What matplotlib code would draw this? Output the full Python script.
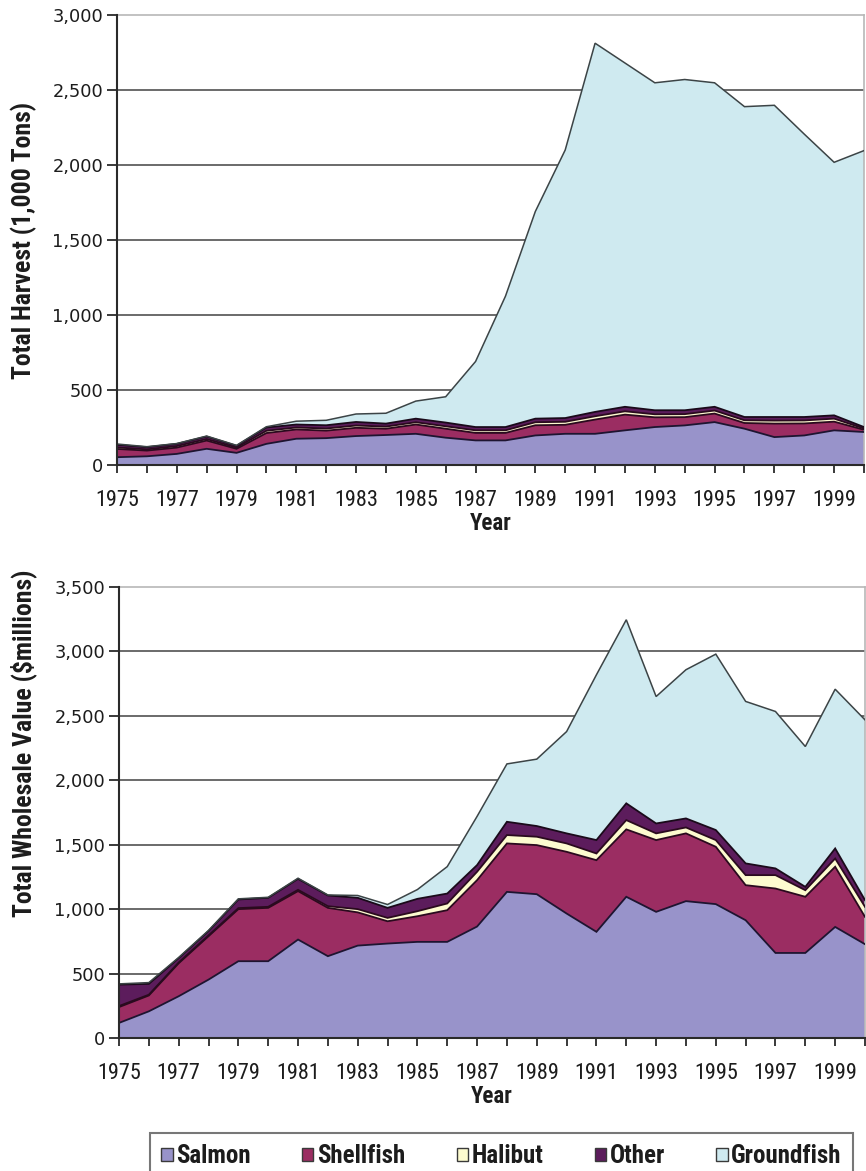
import matplotlib
matplotlib.use("Agg")
import numpy as np
import matplotlib.pyplot as plt
from matplotlib import font_manager
from matplotlib.patches import Patch
from matplotlib.ticker import FuncFormatter

# ---- data -------------------------------------------------------------
years = list(range(1975, 2001))
series_names = ["Salmon", "Shellfish", "Halibut", "Other", "Groundfish"]

# Total harvest, 1,000 tons
harvest_salmon = [52, 58, 74, 108, 81, 141, 175, 179, 193, 200, 208, 182, 164,
                  164, 197, 208, 208, 231, 253, 264, 286, 242, 186, 197, 231, 220]
harvest_shellfish = [55, 38, 42, 55, 27, 72, 62, 50, 55, 42, 62, 60, 50,
                     50, 68, 60, 95, 105, 65, 55, 57, 38, 90, 80, 58, 15]
harvest_halibut = [10, 8, 10, 10, 8, 15, 13, 14, 15, 14, 15, 16, 17,
                   17, 20, 20, 22, 22, 20, 20, 20, 18, 20, 20, 20, 8]
harvest_other = [18, 15, 15, 17, 12, 22, 20, 22, 24, 20, 24, 25, 22,
                 22, 24, 25, 29, 30, 27, 26, 25, 22, 24, 23, 22, 10]
harvest_groundfish = [5, 3, 2, 3, 3, 5, 22, 33, 53, 69, 117, 172, 437,
                      872, 1381, 1787, 2458, 2292, 2183, 2205, 2160, 2069, 2078, 1886, 1687, 1843]

# Total wholesale value, $ millions
value_salmon = [117, 207, 324, 453, 596, 596, 764, 635, 717, 733, 746, 746, 865,
                1134, 1116, 966, 824, 1096, 979, 1062, 1039, 914, 660, 660, 862, 728]
value_shellfish = [123, 123, 256, 337, 404, 414, 376, 375, 258, 173, 199, 246, 360,
                   376, 381, 479, 556, 523, 557, 526, 445, 272, 500, 436, 467, 212]
value_halibut = [8, 6, 6, 6, 8, 8, 10, 13, 25, 26, 39, 52, 65,
                 65, 65, 65, 52, 72, 52, 46, 52, 78, 104, 51, 64, 78]
value_other = [166, 84, 34, 34, 67, 70, 85, 83, 88, 78, 96, 77, 52,
               103, 83, 78, 104, 130, 77, 70, 78, 91, 52, 26, 78, 52]
value_groundfish = [6, 10, 5, 5, 5, 4, 5, 4, 18, 26, 72, 209, 378,
                    449, 519, 790, 1283, 1425, 985, 1154, 1365, 1257, 1218, 1089, 1236, 1399]

# ---- style ------------------------------------------------------------
fill_colors = ["#9893ca", "#9b2d62", "#fdfbcf", "#5c1c5c", "#cfeaf0"]
edge_colors = ["#1e1430", "#2a0a1e", "#2a0a1e", "#1a0a1a", "#3c4446"]

installed = {f.name for f in font_manager.fontManager.ttflist}


def pick(*names):
    for n in names:
        if n in installed:
            return n
    return "DejaVu Sans"


narrow = pick("Liberation Sans Narrow", "Roboto Condensed", "Open Sans Condensed",
              "Liberation Sans")
wide = "DejaVu Sans"
text_color = "#1c1c1c"

fig = plt.figure(figsize=(8.66, 11.71), dpi=100)
W, H = 866.0, 1171.0

ax_top = fig.add_axes([117 / W, 1 - 465 / H, 747 / W, 450 / H])
ax_bot = fig.add_axes([119 / W, 1 - 1038 / H, 746 / W, 451 / H])


def draw_stack(ax, layers, ymax, ystep, ylabel, ylabel_y):
    ax.stackplot(years, *layers, colors=fill_colors, linewidth=0, zorder=2)
    tops = np.cumsum(np.array(layers, dtype=float), axis=0)
    for top, ec in zip(tops, edge_colors):
        lw = 1.1 if ec == edge_colors[-1] else 1.3
        ax.plot(years, top, color=ec, lw=lw, zorder=3, solid_joinstyle="miter")

    ax.set_xlim(years[0], years[-1])
    ax.set_ylim(0, ymax)
    ax.set_yticks(np.arange(0, ymax + 1, ystep))
    ax.yaxis.set_major_formatter(FuncFormatter(lambda v, p: f"{int(v):,}"))
    ax.set_xticks(years[::2])
    ax.set_xticks(years[1::2], minor=True)
    ax.set_xticklabels([str(y) for y in years[::2]])

    ax.set_axisbelow(True)
    ax.yaxis.grid(True, color="#6a6a6a", lw=1.4, zorder=0.5)
    ax.get_ygridlines()[-1].set_visible(False)

    for side in ("left", "bottom"):
        ax.spines[side].set_color("#2a2a2a")
        ax.spines[side].set_linewidth(1.5)
        ax.spines[side].set_zorder(4)
    for side in ("top", "right"):
        ax.spines[side].set_color("#b8b8b8")
        ax.spines[side].set_linewidth(1.2)

    ax.tick_params(axis="x", which="both", direction="out", length=6, width=1.3,
                   color="#2a2a2a", pad=12)
    ax.tick_params(axis="y", direction="out", length=7, width=1.3,
                   color="#2a2a2a", pad=3)
    for lab in ax.get_xticklabels():
        lab.set_fontfamily(narrow)
        lab.set_fontsize(16)
        lab.set_color(text_color)
    for lab in ax.get_yticklabels():
        lab.set_fontfamily(wide)
        lab.set_fontsize(12.8)
        lab.set_color(text_color)

    ax.set_xlabel("Year", fontfamily=narrow, fontweight="bold", fontsize=16.5,
                  color=text_color, labelpad=1)
    fig.text(24 / W, 1 - ylabel_y / H, ylabel, rotation=90, ha="center", va="center",
             fontfamily=narrow, fontweight="bold", fontsize=18.5, color=text_color)


draw_stack(ax_top,
           [harvest_salmon, harvest_shellfish, harvest_halibut, harvest_other,
            harvest_groundfish],
           3000, 500, "Total Harvest (1,000 Tons)", 240)
draw_stack(ax_bot,
           [value_salmon, value_shellfish, value_halibut, value_other,
            value_groundfish],
           3500, 500, "Total Wholesale Value ($millions)", 743)

handles = [Patch(facecolor=c, edgecolor="#3a3a3a", lw=1.0) for c in fill_colors]
leg = fig.legend(handles, series_names, loc="upper left",
                 bbox_to_anchor=(150 / W, 1 - 1133 / H),
                 ncol=5, frameon=True, fancybox=False,
                 handlelength=0.45, handleheight=0.45, handletextpad=0.15,
                 columnspacing=2.05, borderpad=0.45, borderaxespad=0,
                 prop={"family": narrow, "weight": "bold", "size": 18})
leg.get_frame().set_edgecolor("#555555")
leg.get_frame().set_linewidth(1.5)
for t in leg.get_texts():
    t.set_color(text_color)

fig.savefig("out.png", dpi=100)
